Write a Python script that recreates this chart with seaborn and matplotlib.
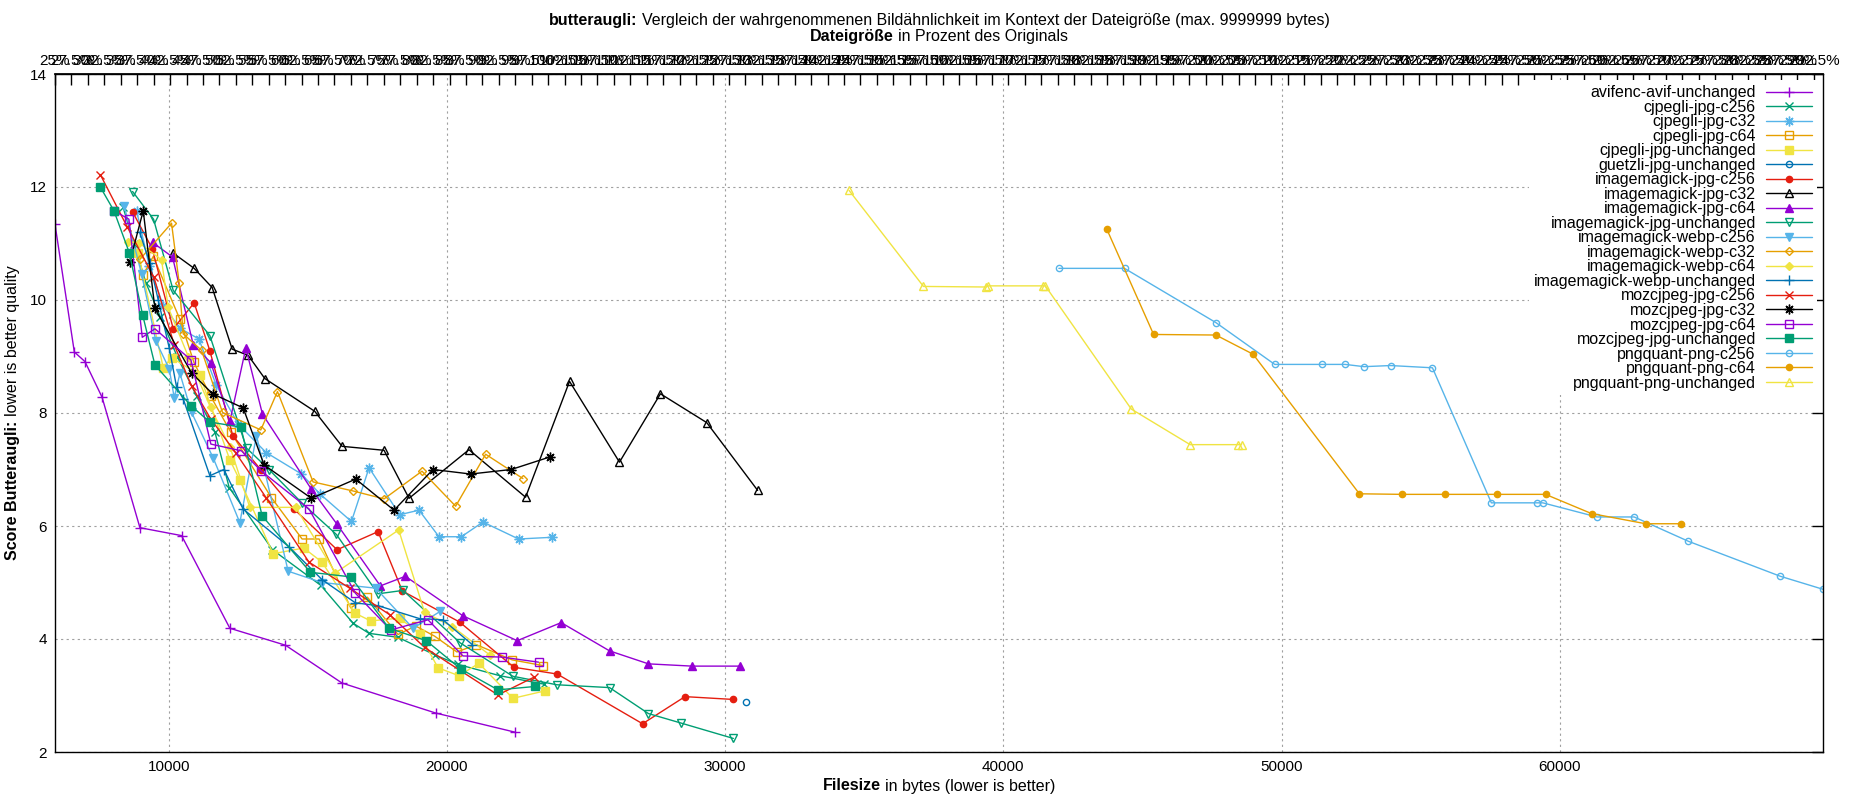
import matplotlib
matplotlib.use("Agg")
import matplotlib.pyplot as plt
import seaborn as sns

# Data (filesize in bytes, butteraugli score)
ORIGINAL_SIZE = 23636  # bytes, used for the percent axis on top

avifenc_x = [5909, 6604, 6986, 7600, 8962, 10459, 12195, 14193, 16228, 19592, 22453]
avifenc_y = [11.34, 9.08, 8.91, 8.28, 5.97, 5.83, 4.19, 3.89, 3.22, 2.69, 2.35]

cjpegli_c256_x = [8350, 8750, 9180, 9700, 10300, 11000, 11655, 12170, 13727, 15462, 16623, 17198, 18240, 19556, 20400, 21900, 23500]
cjpegli_c256_y = [11.65, 11.0, 10.3, 9.7, 9.0, 8.3, 7.67, 6.68, 5.58, 4.95, 4.28, 4.10, 4.03, 3.72, 3.55, 3.35, 3.2]

cjpegli_c32_x = [8841, 9300, 9800, 10400, 11081, 11700, 12500, 13500, 14769, 15427, 16565, 17199, 18300, 18994, 19713, 20515, 21293, 22574, 23771]
cjpegli_c32_y = [11.58, 10.6, 9.9, 9.5, 9.31, 8.5, 7.8, 7.3, 6.92, 6.57, 6.08, 7.03, 6.20, 6.28, 5.81, 5.81, 6.07, 5.77, 5.80]

cjpegli_c64_x = [9081, 9440, 10397, 10900, 11500, 12230, 13690, 14792, 15402, 16540, 17138, 18240, 18874, 19556, 20358, 21052, 22345, 23446]
cjpegli_c64_y = [10.45, 10.77, 9.66, 8.9, 8.3, 7.66, 6.50, 5.77, 5.77, 4.55, 4.74, 4.08, 4.23, 4.05, 3.77, 3.90, 3.63, 3.53]

cjpegli_unch_x = [8901, 9800, 10099, 11117, 12194, 12553, 13751, 14852, 15510, 16683, 17258, 18299, 19017, 19676, 20430, 21148, 22369, 23506]
cjpegli_unch_y = [10.83, 8.80, 8.98, 8.67, 7.17, 6.81, 5.51, 5.61, 5.36, 4.46, 4.32, 4.37, 4.09, 3.49, 3.35, 3.57, 2.95, 3.08]

guetzli_x = [30760]
guetzli_y = [2.89]

im_jpg_c256_x = [8698, 9404, 10159, 10912, 11476, 12300, 13300, 14500, 16049, 17521, 18395, 20454, 22405, 23961, 27030, 28556, 30294]
im_jpg_c256_y = [11.56, 10.91, 9.49, 9.95, 9.10, 7.6, 7.0, 6.3, 5.58, 5.90, 4.85, 4.30, 3.50, 3.38, 2.50, 2.98, 2.93]

im_jpg_c32_x = [10158, 10912, 11560, 12278, 12852, 13451, 15246, 16228, 17737, 18635, 20790, 22825, 24405, 26200, 27673, 29337, 31168]
im_jpg_c32_y = [10.83, 10.56, 10.22, 9.13, 9.02, 8.61, 8.03, 7.41, 7.34, 6.49, 7.35, 6.51, 8.56, 7.13, 8.34, 7.83, 6.63]

im_jpg_c64_x = [9417, 10135, 10877, 11512, 12194, 12769, 13367, 15127, 16049, 17605, 18503, 20574, 22525, 24105, 25843, 27242, 28810, 30547]
im_jpg_c64_y = [11.02, 10.76, 9.21, 8.89, 7.85, 9.15, 7.98, 6.65, 6.03, 4.94, 5.11, 4.41, 3.97, 4.29, 3.79, 3.56, 3.52, 3.52]

im_jpg_unch_x = [8698, 9452, 10158, 11476, 12793, 13600, 14800, 16025, 17521, 18419, 20478, 22369, 23949, 25843, 27242, 28429, 30294]
im_jpg_unch_y = [11.92, 11.43, 10.17, 9.37, 7.38, 7.0, 6.4, 5.85, 4.80, 4.86, 3.93, 3.34, 3.19, 3.14, 2.68, 2.51, 2.24]

im_webp_c256_x = [8398, 9021, 9537, 10016, 10195, 10399, 10818, 11600, 12553, 13152, 14290, 15500, 17437, 18778, 19760]
im_webp_c256_y = [11.66, 10.46, 9.27, 8.78, 8.27, 8.70, 8.01, 7.2, 6.06, 7.6, 5.20, 5.0, 4.90, 4.19, 4.49]

im_webp_c32_x = [8961, 10098, 10373, 10518, 11177, 11931, 13307, 13906, 15187, 16624, 17739, 19102, 20311, 21389, 22729]
im_webp_c32_y = [10.72, 11.36, 10.30, 9.40, 9.11, 8.01, 7.70, 8.38, 6.78, 6.62, 6.48, 6.97, 6.35, 7.27, 6.84]

im_webp_c64_x = [8542, 8937, 9740, 9978, 10700, 11500, 12200, 12912, 14564, 15989, 18264, 19197, 20192, 21532]
im_webp_c64_y = [11.03, 11.01, 10.71, 9.87, 9.0, 8.1, 7.4, 6.33, 6.33, 5.17, 5.93, 4.47, 4.22, 3.72]

im_webp_unch_x = [8950, 9320, 9620, 10016, 10279, 10518, 11476, 11979, 12673, 14325, 15510, 16707, 17521, 19017, 19855, 20909]
im_webp_unch_y = [11.2, 10.65, 10.0, 9.15, 8.46, 8.25, 6.89, 7.0, 6.30, 5.63, 5.05, 4.64, 4.59, 4.36, 4.34, 3.90]

moz_c256_x = [7537, 8500, 9465, 10200, 10818, 11500, 12400, 13500, 15040, 16500, 17940, 19197, 21831, 23110]
moz_c256_y = [12.22, 11.3, 10.40, 9.2, 8.48, 7.9, 7.3, 6.5, 5.36, 4.9, 4.43, 3.85, 3.01, 3.32]

moz_c32_x = [8602, 9081, 9500, 10818, 11572, 12673, 13427, 15127, 16720, 18097, 19497, 20850, 22310, 23687]
moz_c32_y = [10.68, 11.58, 9.85, 8.71, 8.34, 8.09, 7.08, 6.49, 6.83, 6.28, 7.0, 6.92, 7.0, 7.22]

moz_c64_x = [8027, 8566, 9046, 9501, 10794, 11512, 12613, 13331, 15043, 16707, 17976, 19317, 20574, 21974, 23291]
moz_c64_y = [11.58, 11.43, 9.34, 9.49, 8.94, 7.45, 7.33, 6.97, 6.30, 4.81, 4.16, 4.34, 3.70, 3.68, 3.59]

moz_unch_x = [7537, 8027, 8578, 9057, 9501, 10794, 11476, 12589, 13355, 15091, 16540, 17916, 19257, 20490, 21831, 23171]
moz_unch_y = [12.0, 11.58, 10.84, 9.74, 8.85, 8.13, 7.84, 7.75, 6.18, 5.18, 5.10, 4.19, 3.97, 3.47, 3.10, 3.16]

pq_c256_x = [41995, 44355, 47640, 49756, 51459, 52286, 52968, 53917, 55425, 57542, 59196, 59391, 61337, 62676, 64622, 67931, 69464]
pq_c256_y = [10.56, 10.56, 9.60, 8.86, 8.86, 8.86, 8.82, 8.84, 8.80, 6.41, 6.41, 6.41, 6.16, 6.16, 5.73, 5.11, 4.88]

pq_c64_x = [43722, 45401, 47640, 48978, 52798, 54331, 55864, 57737, 59489, 61143, 63090, 64355]
pq_c64_y = [11.25, 9.39, 9.38, 9.04, 6.57, 6.56, 6.56, 6.56, 6.56, 6.22, 6.04, 6.04]

pq_unch_x = [34453, 37129, 39367, 39440, 41435, 41508, 44598, 46715, 48418, 48564]
pq_unch_y = [11.94, 10.24, 10.23, 10.25, 10.25, 10.25, 8.07, 7.44, 7.44, 7.44]

series = [
    ("avifenc-avif-unchanged", avifenc_x, avifenc_y),
    ("cjpegli-jpg-c256", cjpegli_c256_x, cjpegli_c256_y),
    ("cjpegli-jpg-c32", cjpegli_c32_x, cjpegli_c32_y),
    ("cjpegli-jpg-c64", cjpegli_c64_x, cjpegli_c64_y),
    ("cjpegli-jpg-unchanged", cjpegli_unch_x, cjpegli_unch_y),
    ("guetzli-jpg-unchanged", guetzli_x, guetzli_y),
    ("imagemagick-jpg-c256", im_jpg_c256_x, im_jpg_c256_y),
    ("imagemagick-jpg-c32", im_jpg_c32_x, im_jpg_c32_y),
    ("imagemagick-jpg-c64", im_jpg_c64_x, im_jpg_c64_y),
    ("imagemagick-jpg-unchanged", im_jpg_unch_x, im_jpg_unch_y),
    ("imagemagick-webp-c256", im_webp_c256_x, im_webp_c256_y),
    ("imagemagick-webp-c32", im_webp_c32_x, im_webp_c32_y),
    ("imagemagick-webp-c64", im_webp_c64_x, im_webp_c64_y),
    ("imagemagick-webp-unchanged", im_webp_unch_x, im_webp_unch_y),
    ("mozcjpeg-jpg-c256", moz_c256_x, moz_c256_y),
    ("mozcjpeg-jpg-c32", moz_c32_x, moz_c32_y),
    ("mozcjpeg-jpg-c64", moz_c64_x, moz_c64_y),
    ("mozcjpeg-jpg-unchanged", moz_unch_x, moz_unch_y),
    ("pngquant-png-c256", pq_c256_x, pq_c256_y),
    ("pngquant-png-c64", pq_c64_x, pq_c64_y),
    ("pngquant-png-unchanged", pq_unch_x, pq_unch_y),
]

# gnuplot default colour cycle and point types
colors = ["#9400D3", "#009E73", "#56B4E9", "#E69F00", "#F0E442", "#0072B2", "#E51E10", "#000000"]
markers = [
    ("+", True, 7), ("x", True, 6), ((8, 2, 0), True, 7), ("s", False, 5.5), ("s", True, 5.5),
    ("o", False, 4.5), ("o", True, 4.5), ("^", False, 6), ("^", True, 6), ("v", False, 6),
    ("v", True, 6), ("D", False, 4.5), ("D", True, 4.5),
]

sns.set_theme(style="white")
plt.rcParams["font.family"] = ["Liberation Sans", "DejaVu Sans"]
for key in ["text.color", "axes.labelcolor", "xtick.color", "ytick.color", "axes.edgecolor"]:
    plt.rcParams[key] = "black"

W, H = 1850, 800
FS = 11.5
fig, ax = plt.subplots(figsize=(W / 100, H / 100), dpi=100)
fig.subplots_adjust(left=55 / W, right=1823 / W, top=1 - 74 / H, bottom=1 - 752 / H)

for i, (name, xs, ys) in enumerate(series):
    c = colors[i % 8]
    m, filled, ms = markers[i % 13]
    sns.lineplot(
        x=xs, y=ys, ax=ax, color=c, marker=m, markersize=ms,
        markeredgecolor=c, markerfacecolor=c if filled else "none",
        markeredgewidth=1, linewidth=1, sort=False, estimator=None,
        label=name, legend=False,
    )

all_x = [v for _, xs, _ in series for v in xs]
ax.set_xlim(min(all_x), max(all_x))
ax.set_ylim(2, 14)
ax.set_xticks([10000, 20000, 30000, 40000, 50000, 60000])
ax.set_yticks([2, 4, 6, 8, 10, 12, 14])
ax.set_xlabel("")
ax.set_ylabel("")
ax.tick_params(direction="in", length=8, width=1, labelsize=11, right=True, top=False, pad=6)
ax.grid(True, color="#a0a0a0", linestyle=(0, (2, 3)), linewidth=0.8)
ax.set_axisbelow(True)
for sp in ax.spines.values():
    sp.set_linewidth(1)
    sp.set_color("black")

# percent of original axis on top
sec = ax.secondary_xaxis(
    "top",
    functions=(lambda b: b / ORIGINAL_SIZE * 100, lambda p: p * ORIGINAL_SIZE / 100),
)
pmax = max(all_x) / ORIGINAL_SIZE * 100
pct = []
p = 25.0
while p <= pmax + 1e-9:
    pct.append(p)
    p += 2.5
sec.set_xticks(pct)
sec.set_xticklabels([f"{v:g}%" for v in pct])
sec.tick_params(direction="in", length=8, width=1, labelsize=11, pad=4)

leg = ax.legend(
    loc="upper right", markerfirst=False, fontsize=FS, handlelength=2.9,
    handletextpad=0.6, labelspacing=-0.03, borderpad=0.3, borderaxespad=0.4,
    frameon=True, fancybox=False, framealpha=1, edgecolor="none", facecolor="white",
)

renderer = fig.canvas.get_renderer()


def mixed_text(xc, yc, parts, rotation=0):
    # parts: list of (text, weight); centred at pixel (xc, yc)
    gap = 0.278 * FS * 100 / 72
    objs = []
    for s, w in parts:
        if rotation:
            t = fig.text(0, 0, s, fontsize=FS, fontweight=w, rotation=90, ha="center", va="bottom")
        else:
            t = fig.text(0, 0, s, fontsize=FS, fontweight=w, ha="left", va="center")
        objs.append(t)
    sizes = []
    for t in objs:
        bb = t.get_window_extent(renderer)
        sizes.append(bb.height if rotation else bb.width)
    total = sum(sizes) + gap * (len(objs) - 1)
    pos = (yc if rotation else xc) - total / 2
    for t, sz in zip(objs, sizes):
        if rotation:
            t.set_position((xc / W, pos / H))
        else:
            t.set_position((pos / W, yc / H))
        pos += sz + gap


cx = (55 + 1823) / 2
mixed_text(cx, H - 21, [("butteraugli:", "bold"),
                        ("Vergleich der wahrgenommenen Bildähnlichkeit im Kontext der Dateigröße (max. 9999999 bytes)", "normal")])
mixed_text(cx, H - 37, [("Dateigröße", "bold"), ("in Prozent des Originals", "normal")])
mixed_text(cx, H - 786, [("Filesize", "bold"), ("in bytes (lower is better)", "normal")])
mixed_text(13, H - 413, [("Score Butteraugli:", "bold"), ("lower is better quality", "normal")], rotation=90)

fig.savefig("out.png", dpi=100)
